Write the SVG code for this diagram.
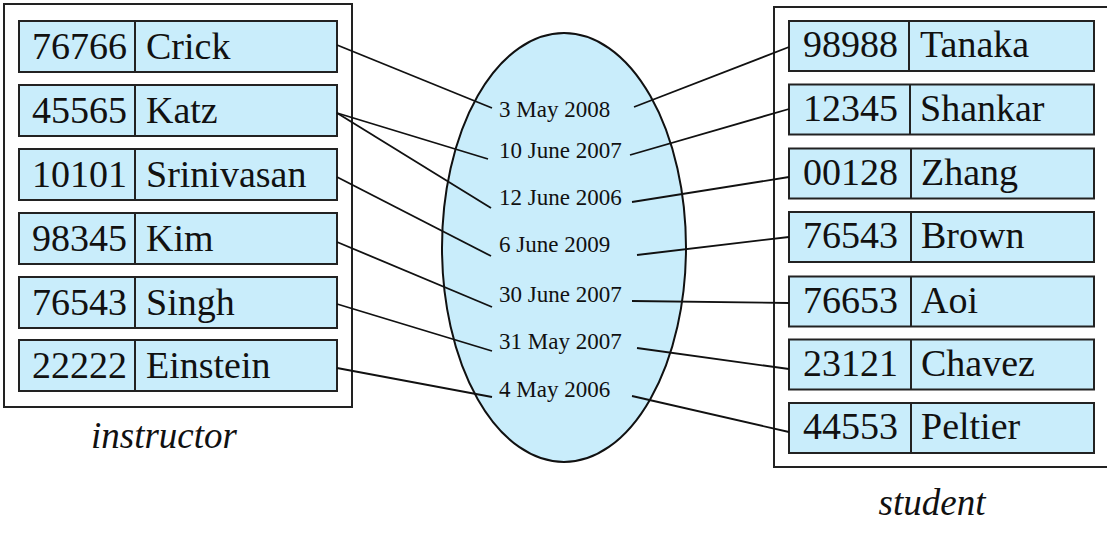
<svg xmlns="http://www.w3.org/2000/svg" width="1112" height="538" viewBox="0 0 1112 538">
<style>
.cell{fill:#c9edfb;stroke:#222;stroke-width:2}
.div{stroke:#222;stroke-width:2}
.frame{fill:none;stroke:#222;stroke-width:2}
.big{font-family:"Liberation Serif",serif;font-size:38px;fill:#111}
.num{text-anchor:end}
.date{font-family:"Liberation Serif",serif;font-size:23px;fill:#111}
.cap{font-family:"Liberation Serif",serif;font-style:italic;font-size:37px;fill:#111;text-anchor:middle}
.conn line{stroke:#111;stroke-width:1.8}
</style>
<rect width="1112" height="538" fill="#ffffff"/>

<g id="instructor">
<rect class="frame" x="4" y="4" width="348" height="403"/>
<text class="cap" x="164" y="448">instructor</text>
<g id="i-76766"><rect class="cell" x="19" y="21" width="318" height="51"/><line class="div" x1="135" y1="21" x2="135" y2="72"/><text class="big num" x="127" y="59">76766</text><text class="big" x="146" y="59">Crick</text></g>
<g id="i-45565"><rect class="cell" x="19" y="85" width="318" height="51"/><line class="div" x1="135" y1="85" x2="135" y2="136"/><text class="big num" x="127" y="123">45565</text><text class="big" x="146" y="123">Katz</text></g>
<g id="i-10101"><rect class="cell" x="19" y="149" width="318" height="51"/><line class="div" x1="135" y1="149" x2="135" y2="200"/><text class="big num" x="127" y="187">10101</text><text class="big" x="146" y="187">Srinivasan</text></g>
<g id="i-98345"><rect class="cell" x="19" y="213" width="318" height="51"/><line class="div" x1="135" y1="213" x2="135" y2="264"/><text class="big num" x="127" y="251">98345</text><text class="big" x="146" y="251">Kim</text></g>
<g id="i-76543"><rect class="cell" x="19" y="277" width="318" height="51"/><line class="div" x1="135" y1="277" x2="135" y2="328"/><text class="big num" x="127" y="315">76543</text><text class="big" x="146" y="315">Singh</text></g>
<g id="i-22222"><rect class="cell" x="19" y="340" width="318" height="51"/><line class="div" x1="135" y1="340" x2="135" y2="391"/><text class="big num" x="127" y="378">22222</text><text class="big" x="146" y="378">Einstein</text></g>
</g>

<g id="student">
<polyline class="frame" points="1107,7 774,7 774,467 1107,467"/>
<text class="cap" x="932" y="515">student</text>
<g id="s-98988"><rect class="cell" x="789" y="21" width="305" height="50"/><line class="div" x1="909" y1="21" x2="909" y2="71"/><text class="big num" x="898" y="57">98988</text><text class="big" x="920" y="57">Tanaka</text></g>
<g id="s-12345"><rect class="cell" x="789" y="84.5" width="305" height="50"/><line class="div" x1="910" y1="84.5" x2="910" y2="134.5"/><text class="big num" x="898" y="121">12345</text><text class="big" x="920" y="121">Shankar</text></g>
<g id="s-00128"><rect class="cell" x="789" y="148.5" width="305" height="50"/><line class="div" x1="911" y1="148.5" x2="911" y2="198.5"/><text class="big num" x="898" y="185">00128</text><text class="big" x="921" y="185">Zhang</text></g>
<g id="s-76543"><rect class="cell" x="789" y="212" width="305" height="50"/><line class="div" x1="911" y1="212" x2="911" y2="262"/><text class="big num" x="898" y="248">76543</text><text class="big" x="921" y="248">Brown</text></g>
<g id="s-76653"><rect class="cell" x="789" y="276.5" width="305" height="50"/><line class="div" x1="911" y1="276.5" x2="911" y2="326.5"/><text class="big num" x="898" y="313">76653</text><text class="big" x="921" y="313">Aoi</text></g>
<g id="s-23121"><rect class="cell" x="789" y="339.5" width="305" height="50"/><line class="div" x1="911" y1="339.5" x2="911" y2="389.5"/><text class="big num" x="898" y="376">23121</text><text class="big" x="921" y="376">Chavez</text></g>
<g id="s-44553"><rect class="cell" x="789" y="403" width="305" height="50"/><line class="div" x1="911" y1="403" x2="911" y2="453"/><text class="big num" x="898" y="439">44553</text><text class="big" x="921" y="439">Peltier</text></g>
</g>

<g id="advisor-set">
<ellipse cx="564" cy="247.5" rx="122" ry="214.5" fill="#c9edfb" stroke="#111" stroke-width="2"/>
<text class="date" x="499" y="117">3 May 2008</text>
<text class="date" x="499" y="158">10 June 2007</text>
<text class="date" x="499" y="205">12 June 2006</text>
<text class="date" x="499" y="252">6 June 2009</text>
<text class="date" x="499" y="302">30 June 2007</text>
<text class="date" x="499" y="349">31 May 2007</text>
<text class="date" x="499" y="397">4 May 2006</text>
</g>

<g id="connectors" class="conn">
<line x1="337" y1="45" x2="492" y2="108"/>
<line x1="337" y1="113" x2="488" y2="159"/>
<line x1="337" y1="113" x2="491" y2="208"/>
<line x1="337" y1="177" x2="491" y2="256"/>
<line x1="337" y1="242" x2="492" y2="307"/>
<line x1="337" y1="304" x2="492" y2="351"/>
<line x1="337" y1="368" x2="492" y2="397"/>
<line x1="634" y1="107" x2="789" y2="47"/>
<line x1="630" y1="155" x2="789" y2="109"/>
<line x1="632" y1="202" x2="789" y2="177"/>
<line x1="637" y1="255" x2="789" y2="237"/>
<line x1="632" y1="301" x2="789" y2="303"/>
<line x1="637" y1="348" x2="789" y2="369"/>
<line x1="632" y1="396" x2="789" y2="432"/>
</g>
</svg>
